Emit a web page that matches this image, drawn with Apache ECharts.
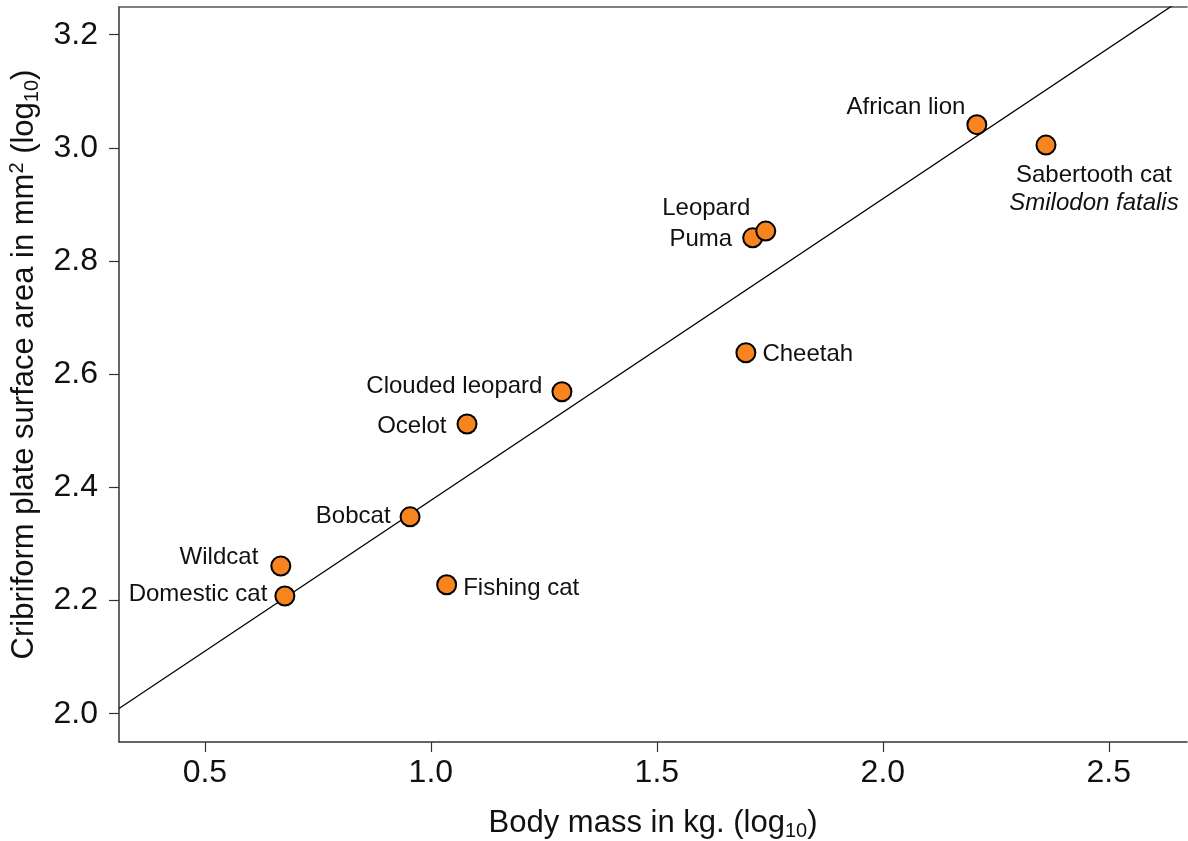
<!DOCTYPE html>
<html>
<head>
<meta charset="utf-8">
<script src="https://cdn.jsdelivr.net/npm/echarts@6/dist/echarts.min.js"></script>
<style>
  html, body { margin: 0; padding: 0; background: #fff; }
  #chart { width: 1188px; height: 841px; }
</style>
</head>
<body>
<div id="chart"></div>
<script>
// species and their log10 values
const names = ['Wildcat', 'Domestic cat', 'Bobcat', 'Fishing cat', 'Ocelot', 'Clouded leopard',
  'Cheetah', 'Puma', 'Leopard', 'African lion', 'Sabertooth cat']
const bodyMass = [0.668, 0.677, 0.954, 1.035, 1.080, 1.290, 1.697, 1.712, 1.741, 2.208, 2.361]
const cribriform = [2.261, 2.208, 2.348, 2.228, 2.512, 2.569, 2.638, 2.841, 2.853, 3.041, 3.005]

// fitted line y = a + b * x
const fitIntercept = 1.844
const fitSlope = 0.533

const xTicks = [0.5, 1.0, 1.5, 2.0, 2.5]
const yTicks = [2.0, 2.2, 2.4, 2.6, 2.8, 3.0, 3.2]

const xMin = 0.31, xMax = 2.673
const yMin = 1.95, yMax = 3.249

// where each label sits relative to its point
const labelPlace = {
  'Wildcat': { position: 'left', offset: [-6, -9] },
  'Domestic cat': { position: 'left', offset: [-1, -2] },
  'Bobcat': { position: 'left', offset: [-3, 0] },
  'Fishing cat': { position: 'right', offset: [0, 4] },
  'Ocelot': { position: 'left', offset: [-4, 2] },
  'Clouded leopard': { position: 'left', offset: [-3, -5] },
  'Cheetah': { position: 'right', offset: [0, 2] },
  'Puma': { position: 'left', offset: [-4, 2] },
  'Leopard': { position: 'left', offset: [1, -23] },
  'African lion': { position: 'left', offset: [5, -17] },
  'Sabertooth cat': { position: 'bottom', offset: [48, 0] }
}

const font = 'Liberation Sans, Arial, Helvetica, sans-serif'

const points = names.map((n, i) => {
  const p = labelPlace[n]
  const item = {
    name: n,
    value: [bodyMass[i], cribriform[i]],
    label: { show: true, position: p.position, offset: p.offset }
  }
  if (n === 'Sabertooth cat') {
    item.label.formatter = '{a|Sabertooth cat}\n{i|Smilodon fatalis}'
    item.label.align = 'center'
  }
  return item
})

const chart = echarts.init(document.getElementById('chart'))
chart.setOption({
  animation: false,
  grid: { left: 119, top: 7, right: 1, bottom: 99, containLabel: false, outerBoundsMode: 'none' },
  xAxis: [{
    type: 'value',
    min: xMin,
    max: xMax,
    name: '{t|Body mass in kg. (log}{s|10}{t|)}',
    nameLocation: 'middle',
    nameGap: 63,
    nameTextStyle: {
      rich: {
        t: { fontFamily: font, fontSize: 31, color: '#111' },
        s: { fontFamily: font, fontSize: 20, color: '#111', padding: [16, 0, 0, 0] }
      }
    },
    splitLine: { show: false },
    axisLine: { lineStyle: { color: '#333', width: 1.5 } },
    axisTick: { customValues: xTicks, length: 10, lineStyle: { color: '#333', width: 1.2 } },
    axisLabel: {
      customValues: xTicks,
      formatter: v => v.toFixed(1),
      fontFamily: font, fontSize: 32, color: '#111', margin: 15
    }
  }, {
    type: 'value',
    position: 'top',
    min: xMin,
    max: xMax,
    splitLine: { show: false },
    axisLine: { onZero: false, lineStyle: { color: '#555', width: 1.5 } },
    axisTick: { show: false },
    axisLabel: { show: false }
  }],
  yAxis: {
    type: 'value',
    min: yMin,
    max: yMax,
    name: '{t|Cribriform plate surface area in mm}{p|2}{t| (log}{s|10}{t|)}',
    nameLocation: 'middle',
    nameGap: 76,
    nameTextStyle: {
      padding: [0, 0, 0, 20],
      rich: {
        t: { fontFamily: font, fontSize: 31, color: '#111' },
        p: { fontFamily: font, fontSize: 20, color: '#111', padding: [0, 0, 14, 0] },
        s: { fontFamily: font, fontSize: 20, color: '#111', padding: [16, 0, 0, 0] }
      }
    },
    splitLine: { show: false },
    axisLine: { show: true, lineStyle: { color: '#333', width: 1.5 } },
    axisTick: { show: true, customValues: yTicks, length: 10, lineStyle: { color: '#333', width: 1.2 } },
    axisLabel: {
      customValues: yTicks,
      formatter: v => v.toFixed(1),
      fontFamily: font, fontSize: 32, color: '#111', margin: 21
    }
  },
  series: [{
    type: 'line',
    data: [[xMin, fitIntercept + fitSlope * xMin], [xMax, fitIntercept + fitSlope * xMax]],
    symbol: 'none',
    clip: true,
    lineStyle: { color: '#000', width: 1.3 },
    silent: true,
    z: 1
  }, {
    type: 'scatter',
    data: points,
    symbol: 'circle',
    symbolSize: 19,
    itemStyle: { color: '#F7841F', borderColor: '#000', borderWidth: 2, opacity: 1 },
    label: {
      fontFamily: font,
      fontSize: 24,
      color: '#111',
      distance: 6,
      formatter: '{b}',
      rich: {
        a: { fontFamily: font, fontSize: 24, color: '#111', lineHeight: 28 },
        i: { fontFamily: font, fontSize: 24, color: '#111', fontStyle: 'italic', lineHeight: 28 }
      }
    },
    z: 3
  }]
})
</script>
</body>
</html>
